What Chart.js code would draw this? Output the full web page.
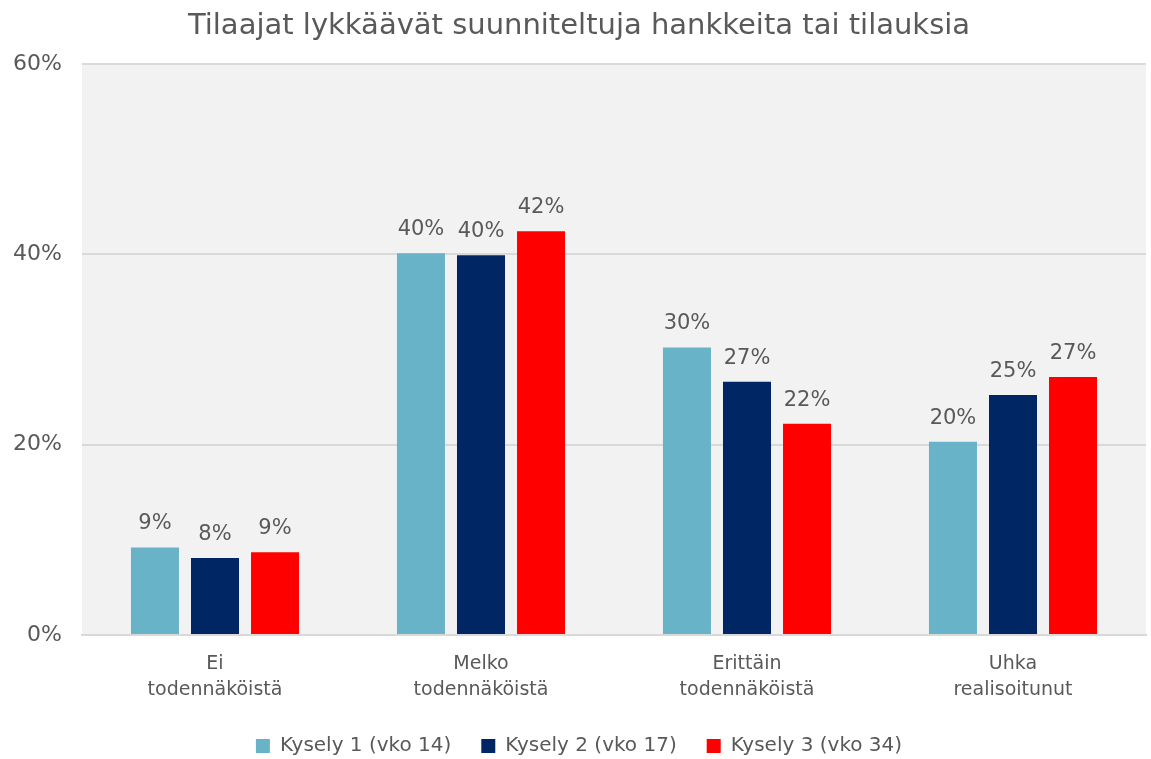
<!DOCTYPE html>
<html>
<head>
<meta charset="utf-8">
<script src="https://cdn.jsdelivr.net/npm/chart.js@4.4.1/dist/chart.umd.min.js"></script>
<style>
  html, body { margin: 0; padding: 0; background: #fff; }
  #wrap { width: 1151px; height: 759px; position: relative; }
</style>
</head>
<body>
<div id="wrap"><canvas id="myChart"></canvas></div>
<script>
// chart data
var categories = [['Ei', 'todennäköistä'], ['Melko', 'todennäköistä'], ['Erittäin', 'todennäköistä'], ['Uhka', 'realisoitunut']];
var seriesNames = ['Kysely 1 (vko 14)', 'Kysely 2 (vko 17)', 'Kysely 3 (vko 34)'];
var kysely1 = [9.2, 40.1, 30.2, 20.3];
var kysely2 = [8.1, 39.9, 26.6, 25.2];
var kysely3 = [8.7, 42.4, 22.2, 27.1];
var yTicks = [0, 20, 40, 60];
var colors = ['#69b3c8', '#002663', '#ff0000'];

var textColor = '#595959';
var fontName = "'DejaVu Sans', sans-serif";

// gray background behind the plot
var plotBg = {
    id: 'plotBg',
    beforeDraw: function(chart) {
        var a = chart.chartArea, c = chart.ctx;
        c.save();
        c.fillStyle = '#f2f2f2';
        c.fillRect(a.left, a.top, a.right - a.left, a.bottom - a.top);
        c.restore();
    }
};

// legend sits closer to the bottom edge than chart.js allows by default
var tightLegend = {
    id: 'tightLegend',
    beforeLayout: function(chart) {
        var lg = chart.legend;
        if (lg && !lg._tight) {
            var origFit = lg.fit;
            lg.fit = function() {
                origFit.call(this);
                this.height -= 7;
            };
            lg._tight = true;
        }
    }
};

// value labels above bars
var valueLabels = {
    id: 'valueLabels',
    afterDatasetsDraw: function(chart) {
        var c = chart.ctx;
        c.save();
        c.fillStyle = textColor;
        c.font = '21px ' + fontName;
        c.textAlign = 'center';
        c.textBaseline = 'alphabetic';
        chart.data.datasets.forEach(function(ds, i) {
            chart.getDatasetMeta(i).data.forEach(function(bar, j) {
                c.fillText(Math.round(ds.data[j]) + '%', bar.x, bar.y - 18);
            });
        });
        c.restore();
    }
};

var ctx = document.getElementById('myChart').getContext('2d');
var myChart = new Chart(ctx, {
    type: 'bar',
    data: {
        labels: categories,
        datasets: [
            { label: seriesNames[0], data: kysely1, backgroundColor: colors[0] },
            { label: seriesNames[1], data: kysely2, backgroundColor: colors[1] },
            { label: seriesNames[2], data: kysely3, backgroundColor: colors[2] }
        ]
    },
    options: {
        responsive: true,
        maintainAspectRatio: false,
        animation: false,
        layout: { padding: { left: 12, right: 5, top: 0, bottom: 0 } },
        datasets: { bar: { categoryPercentage: 0.677, barPercentage: 0.8 } },
        scales: {
            x: {
                grid: { display: false },
                border: { color: '#d9d9d9', width: 2 },
                afterFit: function(axis) {
                    axis.height = 71;
                },
                ticks: {
                    color: textColor,
                    font: { family: fontName, size: 19, lineHeight: 1.37 },
                    padding: 8,
                    maxRotation: 0
                }
            },
            y: {
                min: 0,
                max: 60,
                afterBuildTicks: function(axis) {
                    axis.ticks = yTicks.map(function(v) { return { value: v }; });
                },
                afterFit: function(axis) {
                    axis.width = 70;
                },
                grid: { color: '#d9d9d9', lineWidth: 2, drawTicks: false },
                border: { display: false },
                ticks: {
                    color: textColor,
                    font: { family: fontName, size: 22 },
                    padding: 20,
                    callback: function(v) { return v + '%'; }
                }
            }
        },
        plugins: {
            title: {
                display: true,
                text: 'Tilaajat lykkäävät suunniteltuja hankkeita tai tilauksia',
                color: textColor,
                font: { family: fontName, size: 29, weight: 'normal' },
                padding: { top: 9, bottom: 20 }
            },
            legend: {
                position: 'bottom',
                labels: {
                    color: textColor,
                    font: { family: fontName, size: 20 },
                    boxWidth: 14,
                    boxHeight: 14,
                    padding: 30
                }
            },
            tooltip: { enabled: false }
        }
    },
    plugins: [plotBg, tightLegend, valueLabels]
});
</script>
</body>
</html>
